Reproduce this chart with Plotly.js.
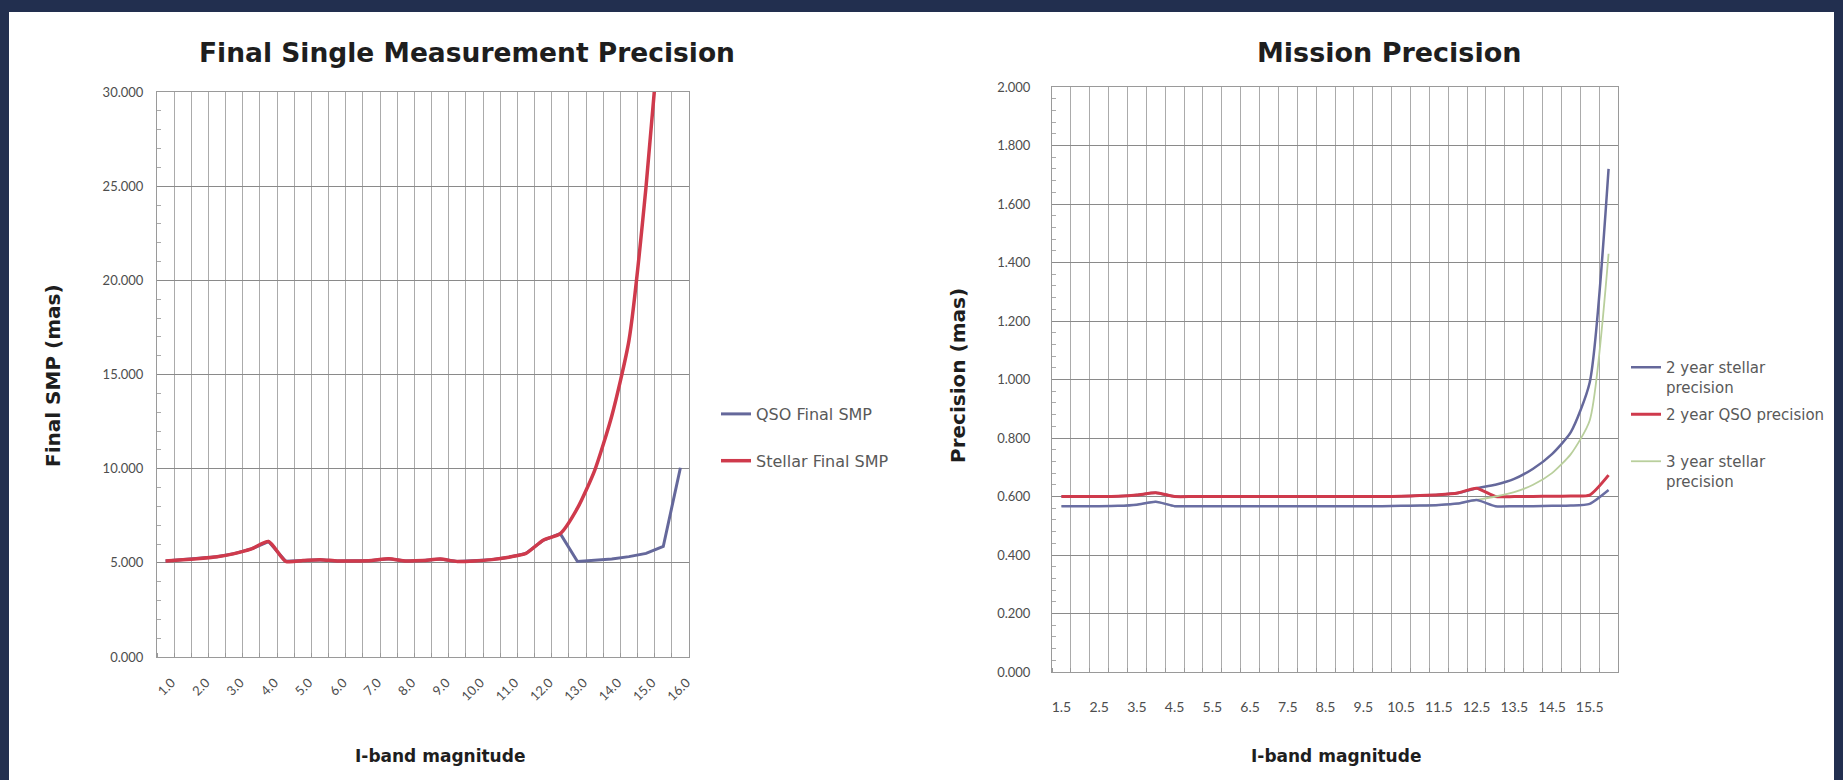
<!DOCTYPE html>
<html><head><meta charset="utf-8">
<script src="https://cdn.plot.ly/plotly-3.0.1.min.js"></script>
<style>
html,body{margin:0;padding:0;background:#222f4f;overflow:hidden;}
#chart{position:absolute;left:0;top:0;width:1843px;height:780px;}
#edgeR{position:absolute;left:1834px;top:0;width:9px;height:780px;background:#222f4f;z-index:10;}
</style></head><body>
<div id="chart"></div><div id="edgeR"></div>
<script>
// ---------- Left chart: Final Single Measurement Precision ----------
const smpMagnitudes = [1.0,1.5,2.0,2.5,3.0,3.5,4.0,4.5,5.0,5.5,6.0,6.5,7.0,7.5,8.0,8.5,9.0,9.5,10.0,10.5,11.0,11.5,12.0,12.5,13.0,13.5,14.0,14.5,15.0,15.5,16.0];
const qsoFinalSMP = [5.10,5.16,5.23,5.32,5.49,5.74,6.13,5.08,5.12,5.17,5.10,5.10,5.13,5.22,5.10,5.12,5.20,5.07,5.10,5.17,5.30,5.50,6.20,6.55,5.07,5.12,5.20,5.33,5.50,5.87,10.05];
const stellarFinalSMP = [5.10,5.16,5.23,5.32,5.49,5.74,6.13,5.08,5.12,5.17,5.10,5.10,5.13,5.22,5.10,5.12,5.20,5.07,5.10,5.17,5.30,5.50,6.20,6.55,7.90,9.90,12.8,16.8,25.0,36.0,52.0];
const smpTickVals = [1,2,3,4,5,6,7,8,9,10,11,12,13,14,15,16];
const smpTickText = ["1.0","2.0","3.0","4.0","5.0","6.0","7.0","8.0","9.0","10.0","11.0","12.0","13.0","14.0","15.0","16.0"];

// ---------- Right chart: Mission Precision ----------
const missionMagnitudes = [1.5,2.0,2.5,3.0,3.5,4.0,4.5,5.0,5.5,6.0,6.5,7.0,7.5,8.0,8.5,9.0,9.5,10.0,10.5,11.0,11.5,12.0,12.5,13.0,13.5,14.0,14.5,15.0,15.5,16.0];
const stellar2yr = [0.600,0.600,0.600,0.601,0.605,0.613,0.600,0.600,0.600,0.600,0.600,0.600,0.600,0.600,0.600,0.600,0.600,0.600,0.601,0.603,0.606,0.612,0.628,0.640,0.660,0.695,0.745,0.820,0.990,1.720];
const qso2yr = [0.600,0.600,0.600,0.601,0.605,0.613,0.600,0.600,0.600,0.600,0.600,0.600,0.600,0.600,0.600,0.600,0.600,0.600,0.601,0.603,0.606,0.612,0.628,0.600,0.600,0.600,0.601,0.602,0.605,0.673];
const stellar3yr = [0.567,0.567,0.567,0.568,0.572,0.582,0.567,0.567,0.567,0.567,0.567,0.567,0.567,0.567,0.567,0.567,0.567,0.567,0.568,0.569,0.571,0.576,0.588,0.600,0.615,0.640,0.680,0.745,0.860,1.430];
const qso3yr = [0.567,0.567,0.567,0.568,0.572,0.582,0.567,0.567,0.567,0.567,0.567,0.567,0.567,0.567,0.567,0.567,0.567,0.567,0.568,0.569,0.571,0.576,0.588,0.567,0.567,0.567,0.568,0.569,0.575,0.622];
const missionTickVals = [1.5,2.5,3.5,4.5,5.5,6.5,7.5,8.5,9.5,10.5,11.5,12.5,13.5,14.5,15.5];
const missionTickText = ["1.5","2.5","3.5","4.5","5.5","6.5","7.5","8.5","9.5","10.5","11.5","12.5","13.5","14.5","15.5"];

const W = 1843, H = 780;
const px = v => v / W, py = v => 1 - v / H;
const BLUE = '#65689b', RED = '#cf3a4c', GREEN = '#b9cf9c', PURPLE = '#6a6ea3';
const NAVY = '#222f4f';
const tickFont = {family: 'Lato, sans-serif', size: 13, color: '#4d4d4d'};
const boldFont = s => ({family: '"DejaVu Sans", sans-serif', size: s, color: '#1e1e1e', weight: 'bold'});
const legendFont = s => ({family: '"DejaVu Sans", sans-serif', size: s, color: '#595959'});

const traces = [
  {x: smpMagnitudes, y: qsoFinalSMP, name: 'QSO Final SMP', type: 'scatter', mode: 'lines',
   line: {color: BLUE, width: 3}, xaxis: 'x', yaxis: 'y', legend: 'legend', legendgroup: 'a'},
  {x: smpMagnitudes, y: stellarFinalSMP, name: 'Stellar Final SMP', type: 'scatter', mode: 'lines',
   line: {color: RED, width: 3.5, shape: 'spline', smoothing: 0.6}, xaxis: 'x', yaxis: 'y', legend: 'legend', legendgroup: 'b'},
  {x: missionMagnitudes, y: stellar2yr, name: '2 year stellar<br>precision', type: 'scatter', mode: 'lines',
   line: {color: BLUE, width: 2.5, shape: 'spline', smoothing: 0.6}, xaxis: 'x2', yaxis: 'y2', legend: 'legend2', legendgroup: 'c'},
  {x: missionMagnitudes, y: qso2yr, name: '2 year QSO precision<br> ', type: 'scatter', mode: 'lines',
   line: {color: RED, width: 3, shape: 'spline', smoothing: 0.6}, xaxis: 'x2', yaxis: 'y2', legend: 'legend2', legendgroup: 'd'},
  {x: missionMagnitudes, y: stellar3yr, name: '3 year stellar<br>precision', type: 'scatter', mode: 'lines',
   line: {color: GREEN, width: 1.8, shape: 'spline', smoothing: 0.6}, xaxis: 'x2', yaxis: 'y2', legend: 'legend2', legendgroup: 'e'},
  {x: missionMagnitudes, y: qso3yr, name: '3 year QSO precision', type: 'scatter', mode: 'lines',
   line: {color: PURPLE, width: 2.5, shape: 'spline', smoothing: 0.6}, xaxis: 'x2', yaxis: 'y2', showlegend: false}
];

const xCommon = {
  showgrid: false, zeroline: false, showline: true, mirror: true, linecolor: '#9a9a9a', linewidth: 1,
  ticks: '', tickfont: tickFont,
  minor: {dtick: 0.5, showgrid: true, gridcolor: '#ababab', gridwidth: 1, ticks: 'inside', ticklen: 4, tickcolor: '#999'}
};
const yCommon = {
  showgrid: true, gridcolor: '#8a8a8a', gridwidth: 1, zeroline: false, showline: true, mirror: true,
  linecolor: '#9a9a9a', linewidth: 1, ticks: '', tickfont: tickFont, tickformat: '.3f'
};

const layout = {
  width: W, height: H,
  margin: {l: 0, r: 0, t: 0, b: 0, autoexpand: false},
  paper_bgcolor: NAVY, plot_bgcolor: '#ffffff',
  font: {family: 'Lato, sans-serif', color: '#555'},
  showlegend: true,
  shapes: [{type: 'rect', xref: 'paper', yref: 'paper', x0: px(9), x1: px(1834), y0: 0, y1: py(12),
            fillcolor: '#ffffff', line: {width: 0}, layer: 'below'}],
  xaxis: Object.assign({}, xCommon, {
    domain: [px(157), px(689)], range: [0.75, 16.25], tickmode: 'array', tickvals: smpTickVals, ticktext: smpTickText,
    tickangle: -45, ticklabelstandoff: 12, ticklabelshift: 6, anchor: 'y',
    minor: Object.assign({}, xCommon.minor, {tick0: 0.75})
  }),
  yaxis: Object.assign({}, yCommon, {
    domain: [py(657), py(92)], range: [0, 30], dtick: 5, anchor: 'x', ticklabelstandoff: 10,
    minor: {dtick: 1, ticks: 'inside', ticklen: 4, tickcolor: '#aaa', showgrid: false}
  }),
  xaxis2: Object.assign({}, xCommon, {
    domain: [px(1052), px(1618)], range: [1.25, 16.25], tickmode: 'array', tickvals: missionTickVals, ticktext: missionTickText,
    tickangle: 0, ticklabelstandoff: 22, anchor: 'y2',
    tickfont: {family: 'Lato, sans-serif', size: 14, color: '#4d4d4d'},
    minor: Object.assign({}, xCommon.minor, {tick0: 1.25})
  }),
  yaxis2: Object.assign({}, yCommon, {
    domain: [py(672), py(87)], range: [0, 2], dtick: 0.2, anchor: 'x2', ticklabelstandoff: 18,
    minor: {dtick: 0.04, ticks: 'inside', ticklen: 4, tickcolor: '#aaa', showgrid: false}
  }),
  legend: {x: px(716), y: py(397), xanchor: 'left', yanchor: 'top', bgcolor: 'rgba(0,0,0,0)',
           font: legendFont(16), tracegroupgap: 23, itemclick: false},
  legend2: {x: px(1626), y: py(351), xanchor: 'left', yanchor: 'top', bgcolor: 'rgba(0,0,0,0)', valign: 'top',
            font: legendFont(15), tracegroupgap: 5, itemclick: false},
  annotations: [
    {text: 'Final Single Measurement Precision', xref: 'paper', yref: 'paper', x: px(467), y: py(53),
     showarrow: false, font: boldFont(26.5), xanchor: 'center', yanchor: 'middle'},
    {text: 'Mission Precision', xref: 'paper', yref: 'paper', x: px(1389), y: py(53),
     showarrow: false, font: boldFont(27), xanchor: 'center', yanchor: 'middle'},
    {text: 'Final SMP (mas)', xref: 'paper', yref: 'paper', x: px(53), y: py(376), textangle: -90,
     showarrow: false, font: boldFont(20), xanchor: 'center', yanchor: 'middle'},
    {text: 'Precision (mas)', xref: 'paper', yref: 'paper', x: px(958), y: py(376), textangle: -90,
     showarrow: false, font: boldFont(20), xanchor: 'center', yanchor: 'middle'},
    {text: 'I-band magnitude', xref: 'paper', yref: 'paper', x: px(440), y: py(756),
     showarrow: false, font: boldFont(17), xanchor: 'center', yanchor: 'middle'},
    {text: 'I-band magnitude', xref: 'paper', yref: 'paper', x: px(1336), y: py(756),
     showarrow: false, font: boldFont(17), xanchor: 'center', yanchor: 'middle'}
  ]
};

Plotly.newPlot('chart', traces, layout, {displayModeBar: false, staticPlot: true});
</script>
</body></html>
